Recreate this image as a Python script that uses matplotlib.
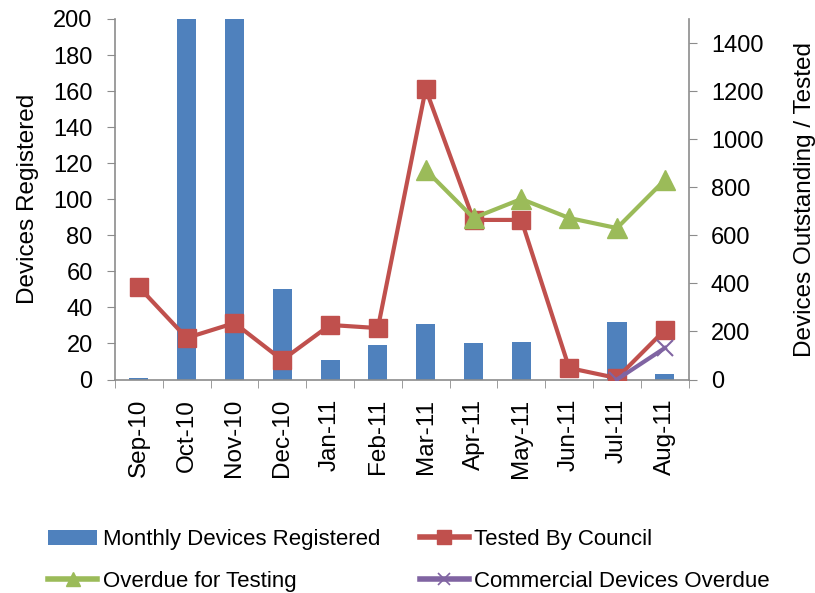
import matplotlib
matplotlib.use("Agg")
import matplotlib.pyplot as plt
import numpy as np
from matplotlib.lines import Line2D
from matplotlib.patches import Patch
from matplotlib import font_manager

plt.rcParams['font.family'] = ['Liberation Sans', 'DejaVu Sans']

months = ["Sep-10", "Oct-10", "Nov-10", "Dec-10", "Jan-11", "Feb-11",
          "Mar-11", "Apr-11", "May-11", "Jun-11", "Jul-11", "Aug-11"]
registered = [1, 260, 240, 50, 11, 19, 31, 20, 21, 0, 32, 3]
tested = [385, 173, 235, 81, 227, 214, 1209, 664, 664, 48, 6, 206]
overdue = [None, None, None, None, None, None, 872, 672, 751, 672, 630, 830]
commercial = [None, None, None, None, None, None, None, None, None, None, 0, 131]

BLUE = "#4F81BD"
RED = "#C0504D"
GREEN = "#9BBB59"
PURPLE = "#8064A2"
GRID = "#8C8C8C"

fig = plt.figure(figsize=(8.15, 5.93), dpi=100)
ax = fig.add_axes([0.141, 0.360, 0.704, 0.608])
ax2 = ax.twinx()

x = np.arange(len(months))
ax.bar(x, registered, width=0.4, color=BLUE, zorder=2)
ax.set_xlim(-0.5, len(months) - 0.5)
ax.set_ylim(0, 200)
ax.set_yticks(np.arange(0, 201, 20))

def series(vals):
    return np.array([np.nan if v is None else v for v in vals], dtype=float)

ax2.plot(x, series(tested), color=RED, lw=3, marker="s", ms=13.5, zorder=3)
ax2.plot(x, series(overdue), color=GREEN, lw=3, marker="^", ms=14.5, zorder=4)
ax2.plot(x, series(commercial), color=PURPLE, lw=3, marker="x", ms=11,
         mew=1.5, zorder=5)
ax2.set_ylim(0, 1500)
ax2.set_yticks(np.arange(0, 1401, 200))

ax.set_xticks(x)
ax.set_xticklabels(months, rotation=90)
ax.set_xticks(np.arange(-0.5, len(months), 1), minor=True)
ax.tick_params(axis="x", which="major", length=0, pad=14, labelsize=17.5)
ax.tick_params(axis="x", which="minor", length=6, color=GRID, direction="out")
ax.tick_params(axis="y", length=6, color=GRID, labelsize=17, pad=10)
ax2.tick_params(axis="y", length=6, color=GRID, labelsize=17, pad=10)

for a in (ax, ax2):
    a.spines["top"].set_visible(False)
    for s in ("left", "right", "bottom"):
        a.spines[s].set_color(GRID)
        a.spines[s].set_linewidth(1.2)
ax.spines["right"].set_visible(False)
ax2.spines["left"].set_visible(False)
ax2.spines["bottom"].set_visible(False)

ax.set_ylabel("Devices Registered", fontsize=17.5, labelpad=10)
ax2.set_ylabel("Devices Outstanding / Tested", fontsize=17.5, labelpad=22)

narrow = [f for f in ("Liberation Sans Narrow", "Liberation Sans")
          if any(e.name == f for e in font_manager.fontManager.ttflist)]

handles = [
    Patch(facecolor=BLUE, edgecolor="none"),
    Line2D([], [], color=RED, lw=4, marker="s", ms=10),
    Line2D([], [], color=GREEN, lw=4, marker="^", ms=10),
    Line2D([], [], color=PURPLE, lw=4, marker="x", ms=8, mew=1.2),
]
labels = ["Monthly Devices Registered", "Tested By Council",
          "Overdue for Testing", "Commercial Devices Overdue"]
order = [0, 2, 1, 3]
fig.legend([handles[i] for i in order], [labels[i] for i in order],
           ncol=2, loc="lower left", bbox_to_anchor=(0.04, -0.025),
           frameon=False, handlelength=2.2, handletextpad=0.25,
           columnspacing=1.8, labelspacing=0.95, borderpad=0.2,
           prop={"family": narrow + ["DejaVu Sans"], "size": 16})

fig.savefig("out.png", dpi=100)
